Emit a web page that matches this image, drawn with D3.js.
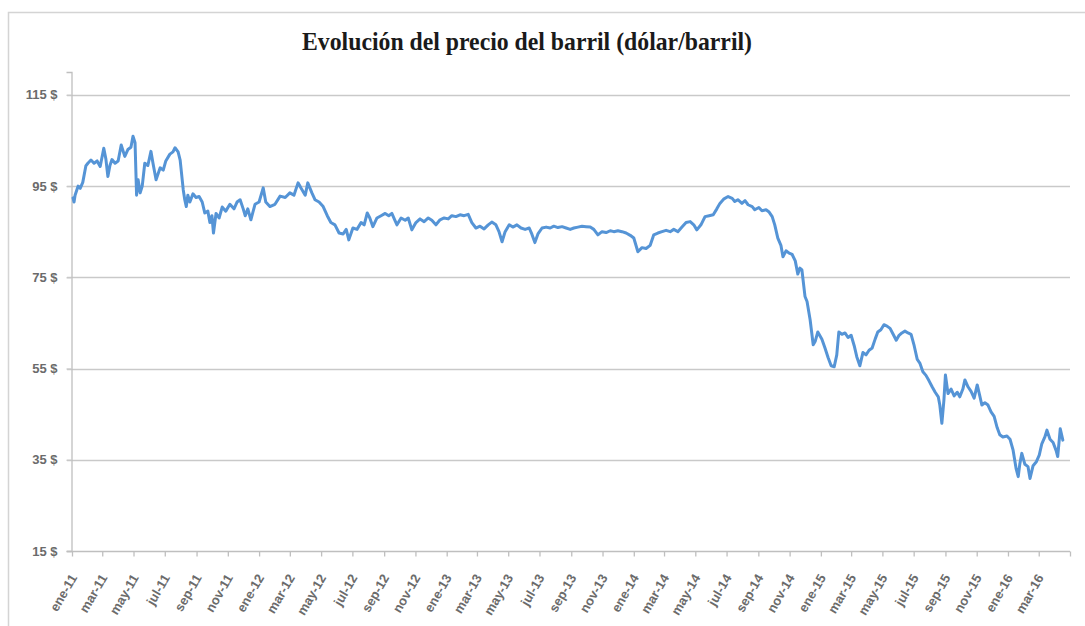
<!DOCTYPE html>
<html>
<head>
<meta charset="utf-8">
<script src="https://cdn.jsdelivr.net/npm/d3@7"></script>
<style>
  html, body { margin: 0; padding: 0; background: #fff; }
  svg { display: block; }
</style>
</head>
<body>
<svg id="chart" width="1085" height="626"></svg>
<script>
// ---------------- DATA ----------------
const chartTitle = "Evolución del precio del barril (dólar/barril)";
// dates are given as days since 1 January 2011
const days2011 = [2,4,6,12,16,21,27,31,37,43, 49,55,62,66,70,74,78,84,90,96, 103,109,115,119,123,126,129,133,137,142, 148,154,158,164,172,178,183,191,197,201, 207,211,217,220,223,226,230,236,242,248, 254,259,265,269,273,276,281,287,293,300, 308,316,322,328,334,338,343,349,357];
const prices2011 = [92.4,91.5,93,95,94.5,95.8,99.4,100,100.7,100, 100.5,99.3,103.3,101,97.1,99.5,100.8,100,100.5,104, 101.5,103,103.5,105.9,104.5,93,96.4,93.5,95,100, 99.5,102.6,100,96.4,99,98.5,100.5,102,102.5,103.4, 102.5,100.7,94.2,92,90.5,93,91.5,93.3,92.5,92.7, 91.5,89.1,89.5,87,88.5,84.7,89,88,90.4,89.5, 91,90,91.5,92,90,88.5,90,87.6,91];

const days2012 = [365,373,378,386,396,406,416,425,433,441, 447,455,460,468,474,482,490,498,505,513, 521,529,535,540,548,556,564,570,576,581, 587,595,603,611,618,624,630,634,642,650, 656,663,671,679,687,695,702,710,718,726];
const prices2012 = [91.5,94.6,91.5,90.5,91,92.8,92.5,93.5,93,95.7, 94.5,93,95.7,93.5,92,91.5,90.5,88.5,87,86.5, 84.7,84.5,85.5,83.2,85.8,85.5,87,86.5,89.1,88, 86.1,88,88.5,89,88.5,89,87.5,86.5,88,87.5, 88,85.4,87,87.8,87.2,88,87.5,86.5,87.6,88];

const days2013 = [734,741,749,757,765,773,780,788,796,804, 812,819,827,833,839,845,853,860,868,876, 884,892,897,903,909,917,925,933,940,948, 956,964,972,979,987,995,1003,1011,1018,1026, 1034,1042,1050,1057,1065,1073,1081,1089];
const prices2013 = [87.8,88.5,88.3,88.7,88.5,88.8,87,85.8,86.2,85.6, 86.5,87.1,86.5,85,82.8,85,86.5,86,86.5,85.8, 85.5,85.8,84.5,82.6,84.5,85.8,86,85.8,86.2,85.9, 86.1,85.8,85.5,85.8,86,86.2,86.1,86,85.5,84.3, 85,84.8,85.2,85,85.2,85,84.7,84.2];

const days2014 = [1096,1104,1112,1120,1128,1135,1143,1151,1159,1167, 1174,1182,1190,1198,1206,1213,1219,1227,1235,1243, 1251,1258,1264,1272,1280,1288,1293,1299,1307,1313, 1319,1327,1332,1340,1346,1354,1360,1366,1371,1377, 1383,1387,1393,1399,1405,1411,1416,1420,1424,1430, 1434,1440,1446,1450,1455];
const prices2014 = [83.6,80.6,81.5,81.3,82,84.3,84.7,85,85.3,85, 85.5,85,86,87,87.2,86.5,85.4,86.5,88.3,88.5, 88.7,90,91.2,92.2,92.7,92.3,91.6,92,91.2,91.8, 90.9,90.5,89.8,90.3,89.6,89.8,89.3,88.3,86.5,83.6, 82,79.5,80.8,80.3,80,78.6,75.7,77,76.6,70.8, 69.7,65.7,60.2,61,63];

const days2015 = [1463,1469,1475,1481,1487,1492,1496,1502,1508,1514, 1520,1526,1531,1537,1543,1549,1555,1561,1567,1572, 1578,1584,1590,1596,1602,1608,1613,1619,1625,1631, 1637,1643,1649,1654,1660,1666,1672,1678,1684,1690, 1693,1697,1701,1704,1709,1715,1721,1727,1732,1738, 1742,1748,1754,1760,1766,1771,1775,1781,1787,1793, 1799,1805,1810,1816,1824];
const prices2015 = [61.4,59.5,57.4,55.6,55.4,58,63,62.5,62.8,61.8, 62.3,60,57.6,55.6,58.5,58,59,59.5,61.5,63, 63.5,64.6,64.3,63.8,62.5,61.2,62.2,62.8,63.2,62.8, 62.5,60,57,56.2,54.3,53.5,52.3,51,49.8,48.8, 47,43,48,53.6,49.5,50.5,49,49.8,48.8,50.5, 52.5,51,50,48.5,51.4,49,47,47.5,47,45.5, 44.5,42,40.5,40,40.2];

const days2016 = [1830,1836,1842,1846,1849,1853,1859,1865,1869,1875, 1881,1887,1892,1898,1902,1908,1914,1920,1923,1928, 1933];
const prices2016 = [39.5,37.1,33,31.3,34,36.4,34,33.5,30.9,33.7, 34.5,36,38.5,40,41.5,39.5,38.8,37,35.7,41.8, 39.3];

const xTickLabels = ["ene-11","mar-11","may-11","jul-11","sep-11","nov-11",
  "ene-12","mar-12","may-12","jul-12","sep-12","nov-12",
  "ene-13","mar-13","may-13","jul-13","sep-13","nov-13",
  "ene-14","mar-14","may-14","jul-14","sep-14","nov-14",
  "ene-15","mar-15","may-15","jul-15","sep-15","nov-15",
  "ene-16","mar-16"];
const yTicks = [15, 35, 55, 75, 95, 115];

// ---------------- CHART ----------------
const startDate = new Date(2011, 0, 1);
const endDate = new Date(2016, 4, 1);
const allDays = [].concat(days2011, days2012, days2013, days2014, days2015, days2016);
const allPrices = [].concat(prices2011, prices2012, prices2013, prices2014, prices2015, prices2016);
const data = allDays.map((d, i) => ({ date: d3.timeDay.offset(startDate, d), price: allPrices[i] }));

const svg = d3.select("#chart");
const plotLeft = 72, plotRight = 1070, plotTop = 72, plotBottom = 551;

svg.append("rect").attr("width", 1085).attr("height", 626).attr("fill", "#fff");
svg.append("rect").attr("x", 8.5).attr("y", 12.5).attr("width", 1200).attr("height", 800)
  .attr("fill", "none").attr("stroke", "#d4d4d4").attr("stroke-width", 1.5);

const x = d3.scaleTime().domain([startDate, endDate]).range([plotLeft, plotRight]);
const y = d3.scaleLinear().domain([15, 120]).range([plotBottom, plotTop]);

// gridlines
svg.append("g").selectAll("line").data(yTicks.filter(v => v !== 15)).join("line")
  .attr("x1", plotLeft - 5).attr("x2", plotRight)
  .attr("y1", d => Math.round(y(d)) + 0.5).attr("y2", d => Math.round(y(d)) + 0.5)
  .attr("stroke", "#c9c9c9").attr("stroke-width", 1.3);

// y axis
const yAxis = svg.append("g").attr("transform", `translate(${plotLeft - 0.5},0)`)
  .call(d3.axisLeft(y).tickValues(yTicks).tickSize(5).tickPadding(9).tickFormat(d => d + " $"));
yAxis.select(".domain").attr("stroke", "#bfbfbf").attr("stroke-width", 1.3);
yAxis.selectAll(".tick line").attr("stroke", "#c9c9c9").attr("stroke-width", 1.3);
yAxis.selectAll("text").attr("fill", "#6b6b6b")
  .style("font-family", "'Liberation Sans', Arial, sans-serif").style("font-size", "13px").style("font-weight", "bold");

// x axis
const tickDates = d3.timeMonth.every(2).range(startDate, d3.timeDay.offset(endDate, 1));
const xAxis = svg.append("g").attr("transform", `translate(0,${plotBottom + 0.5})`)
  .call(d3.axisBottom(x).tickValues(tickDates).tickSize(5).tickSizeOuter(0)
    .tickFormat((d, i) => xTickLabels[i] || ""));
xAxis.select(".domain").attr("stroke", "#bfbfbf").attr("stroke-width", 1.3)
  .attr("d", `M${plotLeft - 5},0H${plotRight}`);
xAxis.selectAll(".tick line").attr("stroke", "#bfbfbf").attr("stroke-width", 1.3);
xAxis.selectAll("text")
  .attr("x", 0).attr("y", 0).attr("dy", null)
  .attr("transform", "translate(5,26) rotate(-60)")
  .attr("text-anchor", "end").attr("fill", "#6b6b6b")
  .style("font-family", "'Liberation Sans', Arial, sans-serif").style("font-size", "13px").style("font-weight", "bold");

// line
svg.append("path").datum(data)
  .attr("fill", "none").attr("stroke", "#5594d6").attr("stroke-width", 3)
  .attr("stroke-linejoin", "round").attr("stroke-linecap", "round")
  .attr("d", d3.line().x(d => x(d.date)).y(d => y(d.price)));

// title
svg.append("text").attr("x", 527).attr("y", 50).attr("text-anchor", "middle")
  .attr("textLength", 450).attr("lengthAdjust", "spacingAndGlyphs")
  .style("font-family", "'Liberation Serif', 'Times New Roman', serif")
  .style("font-size", "26px").style("font-weight", "bold").attr("fill", "#1a1a1a")
  .text(chartTitle);
</script>
</body>
</html>
